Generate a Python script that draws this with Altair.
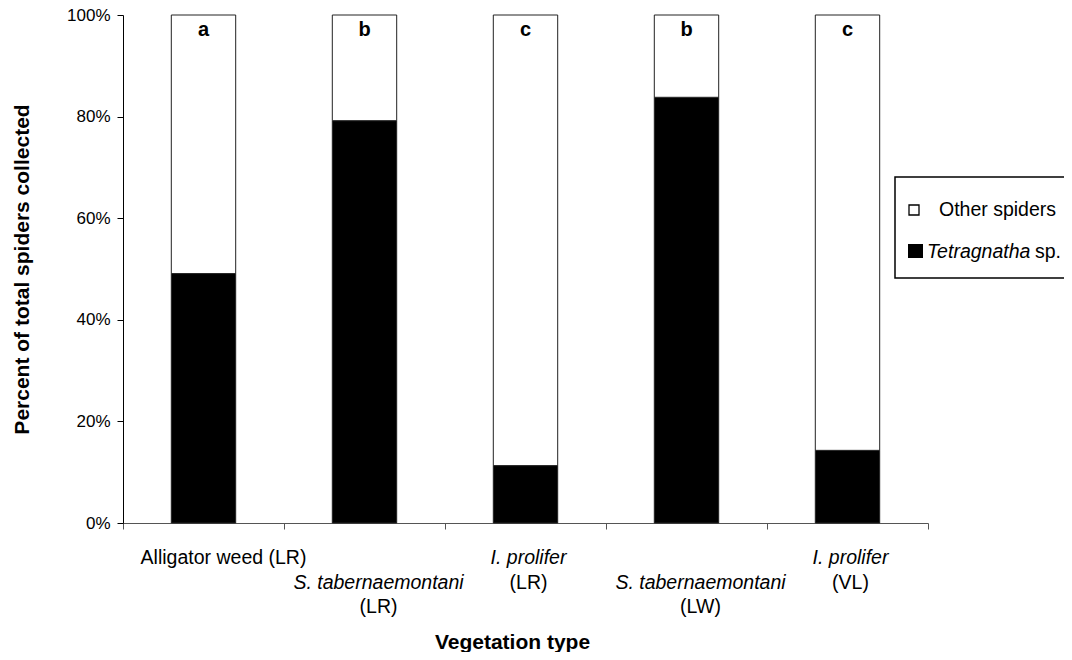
import altair as alt
import pandas as pd

# ---- data ----
categories = [
    "Alligator weed (LR)",
    "S. tabernaemontani (LR)",
    "I. prolifer (LR)",
    "S. tabernaemontani (LW)",
    "I. prolifer (VL)",
]
tetragnatha_share = [0.491, 0.792, 0.113, 0.838, 0.143]
sig_letters = ["a", "b", "c", "b", "c"]
label_lines = [
    ["Alligator weed (LR)"],
    ["S. tabernaemontani", "(LR)"],
    ["I. prolifer", "(LR)"],
    ["S. tabernaemontani", "(LW)"],
    ["I. prolifer", "(VL)"],
]
first_line_italic = [False, True, True, True, True]
series_names = ["Other spiders", "Tetragnatha sp."]
y_ticks = [0, 0.2, 0.4, 0.6, 0.8, 1.0]

FONT = "Liberation Sans"
W, H = 805, 508

# ---- tables ----
rows = []
for c, t in zip(categories, tetragnatha_share):
    rows.append({"cat": c, "series": "Tetragnatha sp.", "start": 0.0, "end": t})
    rows.append({"cat": c, "series": "Other spiders", "start": t, "end": 1.0})
bars_df = pd.DataFrame(rows)

letters_df = pd.DataFrame({"cat": categories, "letter": sig_letters})

lab_rows = []
for i, (c, lines) in enumerate(zip(categories, label_lines)):
    for j, txt in enumerate(lines):
        lab_rows.append({
            "cat": c,
            "text": txt,
            "row": (i % 2) + j,
            "italic": bool(first_line_italic[i] and j == 0),
        })
labels_df = pd.DataFrame(lab_rows)

xscale = alt.Scale(domain=categories, paddingInner=0, paddingOuter=0)
x_enc = alt.X("cat:N", sort=categories, scale=xscale,
              axis=alt.Axis(title="Vegetation type", labels=False, tickBand="extent",
                            tickSize=6, domainColor="#555", tickColor="#555",
                            titleFontSize=21, titleFontWeight="bold", titleFont=FONT,
                            titleColor="black", titleBaseline="alphabetic", titlePadding=119,
                            titleX=389, titleAlign="center"))

bars = alt.Chart(bars_df).mark_bar(
    width=alt.RelativeBandSize(0.4), stroke="#222", strokeWidth=1
).encode(
    x=x_enc,
    y=alt.Y("start:Q", scale=alt.Scale(domain=[0, 1], nice=False),
            axis=alt.Axis(title="Percent of total spiders collected", values=y_ticks,
                          format=".0%", tickSize=6, labelFontSize=17, labelFont=FONT,
                          labelColor="black", labelPadding=7, domainColor="black",
                          tickColor="black", titleFontSize=21, titleFontWeight="bold",
                          titleFont=FONT, titleColor="black", titleBaseline="middle",
                          titleX=-101, titleY=H / 2)),
    y2="end:Q",
    fill=alt.Fill("series:N", scale=alt.Scale(domain=series_names, range=["white", "black"]),
                  legend=None),
)

letters = alt.Chart(letters_df).mark_text(
    font=FONT, fontSize=20, fontWeight="bold", baseline="middle", color="black"
).encode(
    x=alt.X("cat:N", sort=categories),
    y=alt.value(15),
    text="letter:N",
)

row_y = [543, 568, 592]
row_dx = {(0, False): 20, (0, True): 3, (1, False): 3, (1, True): 14, (2, False): 14}
label_layers = []
for r in range(3):
    for it in (False, True):
        sub = labels_df[(labels_df["row"] == r) & (labels_df["italic"] == it)]
        if len(sub) == 0:
            continue
        label_layers.append(
            alt.Chart(sub).mark_text(
                font=FONT, fontSize=19.5, fontStyle="italic" if it else "normal",
                baseline="middle", color="black", dx=row_dx[(r, it)]
            ).encode(x=alt.X("cat:N", sort=categories), y=alt.value(row_y[r]), text="text:N")
        )

# ---- hand-drawn legend (box + swatches + mixed-style text) ----
leg_box = alt.Chart(pd.DataFrame({"k": [0]})).mark_rect(
    fill="white", stroke="black", strokeWidth=1.5
).encode(x=alt.value(772), x2=alt.value(946), y=alt.value(162), y2=alt.value(263))

leg_df = pd.DataFrame({"series": series_names})
sw_other = alt.Chart(leg_df.iloc[[0]]).mark_rect(fill="white", stroke="black", strokeWidth=1.3).encode(
    x=alt.value(786), x2=alt.value(796), y=alt.value(190), y2=alt.value(200))
sw_tet = alt.Chart(leg_df.iloc[[1]]).mark_rect(fill="black").encode(
    x=alt.value(785), x2=alt.value(800), y=alt.value(229), y2=alt.value(243))
txt_other = alt.Chart(leg_df.iloc[[0]]).mark_text(
    font=FONT, fontSize=19.5, align="left", baseline="middle", color="black"
).encode(x=alt.value(816), y=alt.value(195), text="series:N")
txt_tet = alt.Chart(pd.DataFrame({"t": ["Tetragnatha"]})).mark_text(
    font=FONT, fontSize=19.5, fontStyle="italic", align="left", baseline="middle", color="black"
).encode(x=alt.value(804), y=alt.value(237), text="t:N")
txt_sp = alt.Chart(pd.DataFrame({"t": ["sp."]})).mark_text(
    font=FONT, fontSize=19.5, align="left", baseline="middle", color="black"
).encode(x=alt.value(912), y=alt.value(237), text="t:N")

chart = alt.layer(
    bars, letters, *label_layers, leg_box, sw_other, sw_tet, txt_other, txt_tet, txt_sp
).properties(
    width=W, height=H,
    autosize=alt.AutoSizeParams(type="none"),
    padding={"left": 115, "top": 7, "right": 136, "bottom": 129},
).configure_view(stroke=None).configure_axis(grid=False)

chart.save("out.html", embed_options={"renderer": "svg", "actions": False})
